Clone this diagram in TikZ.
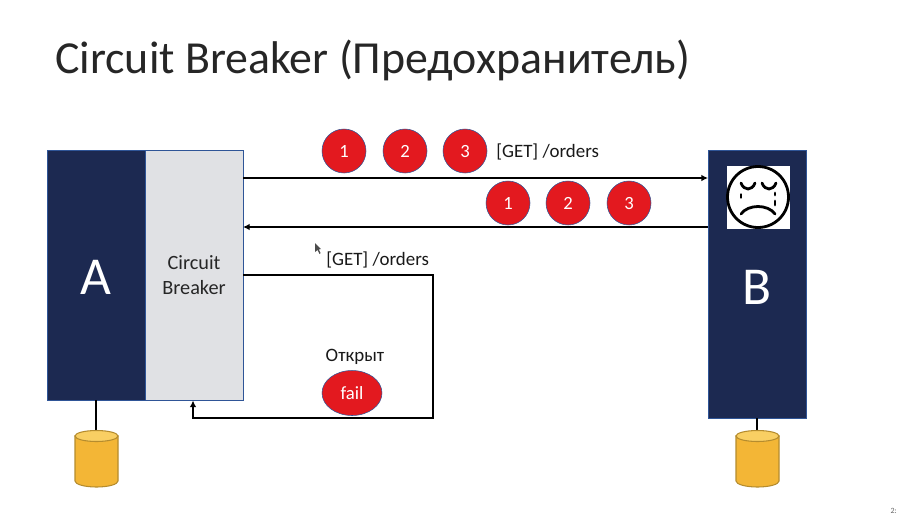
\documentclass[tikz,border=0pt]{standalone}
\usepackage{fontspec}
\setmainfont[Numbers=Lining]{Carlito}
\usetikzlibrary{arrows.meta,shapes.geometric}
\definecolor{navy}{HTML}{1C2951}
\definecolor{edgeblue}{HTML}{2F5597}
\definecolor{cbgray}{HTML}{E0E1E4}
\definecolor{redfill}{HTML}{E3191F}
\definecolor{dbfill}{HTML}{F3B636}
\definecolor{dbtop}{HTML}{F9CF63}
\definecolor{dbedge}{HTML}{B58C2E}
\def\P{0.75pt}
\tikzset{
  service/.style={draw=edgeblue,fill=navy,inner sep=0pt,minimum width=98*\P},
  bigletter/.style={text=white,inner sep=0pt,font=\fontsize{40}{40}\selectfont},
  breaker/.style={draw=edgeblue,fill=cbgray,inner sep=0pt,minimum width=98*\P,minimum height=250*\P,align=center,font=\fontsize{15.2}{18.5}\selectfont,text=black!85},
  token/.style={circle,draw=edgeblue,fill=redfill,text=white,inner sep=0pt,minimum size=44*\P,text height=9pt,text depth=0pt,font=\fontsize{14}{14}\selectfont},
  failtoken/.style={ellipse,draw=edgeblue,fill=redfill,text=white,inner sep=0pt,minimum width=60*\P,minimum height=45*\P,font=\fontsize{14}{14}\selectfont},
  lbl/.style={inner sep=0pt,font=\fontsize{14.2}{15}\selectfont,text=black!90},
  wire/.style={draw=black,line width=1pt},
  arrowwire/.style={wire,-{Latex[length=5pt,width=5pt]}},
  facestroke/.style={draw=black,line width=2.1pt,line cap=round},
  dbline/.style={draw=dbedge,line width=0.8pt}
}
\newcommand{\dbcyl}[1]{%
  \fill[dbfill,dbline] (#1-21.5,436) -- (#1-21.5,481) arc[start angle=180,end angle=0,x radius=21.5,y radius=6] -- (#1+21.5,436) -- cycle;
  \fill[dbtop,dbline] (#1,436) ellipse[x radius=21.5,y radius=5.5];
}
\begin{document}
\begin{tikzpicture}[x=\P,y=-\P]
\useasboundingbox (0,0) rectangle (898,515);
\fill[white] (0,0) rectangle (898,515);

\node[anchor=west,inner sep=0pt,font=\fontsize{34.4}{36}\selectfont,text=black!85] (title) at (55,60) {Circuit Breaker (Предохранитель)};

% boxes
\node[service,minimum height=250*\P] (a) at (96,275) {};
\node[bigletter] (alabel) at (96,277) {A};
\node[breaker] (cb) at (194,275) {Circuit\\Breaker};
\node[service,minimum height=268*\P] (b) at (757,284) {};
\node[bigletter] (blabel) at (757,287) {B};

% connector anchors
\coordinate (cbtop) at (243,178);
\coordinate (btop) at (708,178);
\coordinate (cbmid) at (243,227);
\coordinate (bmid) at (708,227);
\coordinate (cbloop) at (243,275);
\coordinate (loopcorner) at (433,418);
\coordinate (cbbottom) at (193,400.5);

\draw[arrowwire] (cbtop) -- (btop);
\draw[arrowwire] (bmid) -- (cbmid);
\draw[arrowwire] (cbloop) -| (loopcorner) -| (cbbottom);

% request tokens
\node[token] (r1) at (344,151) {1};
\node[token] (r2) at (405,151) {2};
\node[token] (r3) at (465,151) {3};
\node[lbl,anchor=west] (rlabel) at (496,151.5) {[GET] /orders};
\node[token] (s1) at (508,203) {1};
\node[token] (s2) at (568,203) {2};
\node[token] (s3) at (629,203) {3};

\node[lbl,anchor=west] (looplabel) at (326,260) {[GET] /orders};
\node[lbl] (openlabel) at (355,357) {Открыт};
\node[failtoken] (fail) at (352,393) {fail};

% face
\node[fill=white,inner sep=0pt,minimum width=63*\P,minimum height=63*\P] (faceback) at (758.5,197.5) {};
\draw[facestroke] (758,197) circle[radius=30.5];
\draw[facestroke] (741,183) .. controls (744,191) and (752,191) .. (755,183);
\draw[facestroke] (762,183) .. controls (765,191) and (773,191) .. (776,183);
\draw[facestroke] (741,194.5) -- (741,197.5);
\draw[facestroke] (775,193) -- (775,195);
\draw[facestroke] (775,201) -- (775,205);
\draw[facestroke] (741,214) .. controls (748,204) and (768,204) .. (775,214);

% databases
\coordinate (dbatop) at (96,431);
\coordinate (dbbtop) at (757,431);
\draw[wire] (a.south) -- (dbatop);
\draw[wire] (b.south) -- (dbbtop);
\dbcyl{96.5}
\dbcyl{757.5}

% pointer
\fill[black!70] (315,243) -- (315,252) -- (317.5,250) -- (319.5,254) -- (320.5,253) -- (318.8,249.5) -- (321,249) -- cycle;

% slide number
\node[anchor=south east,inner sep=0pt,font=\fontsize{6}{7}\selectfont,text=black!60] (pagenum) at (897,514) {2:};
\end{tikzpicture}
\end{document}
